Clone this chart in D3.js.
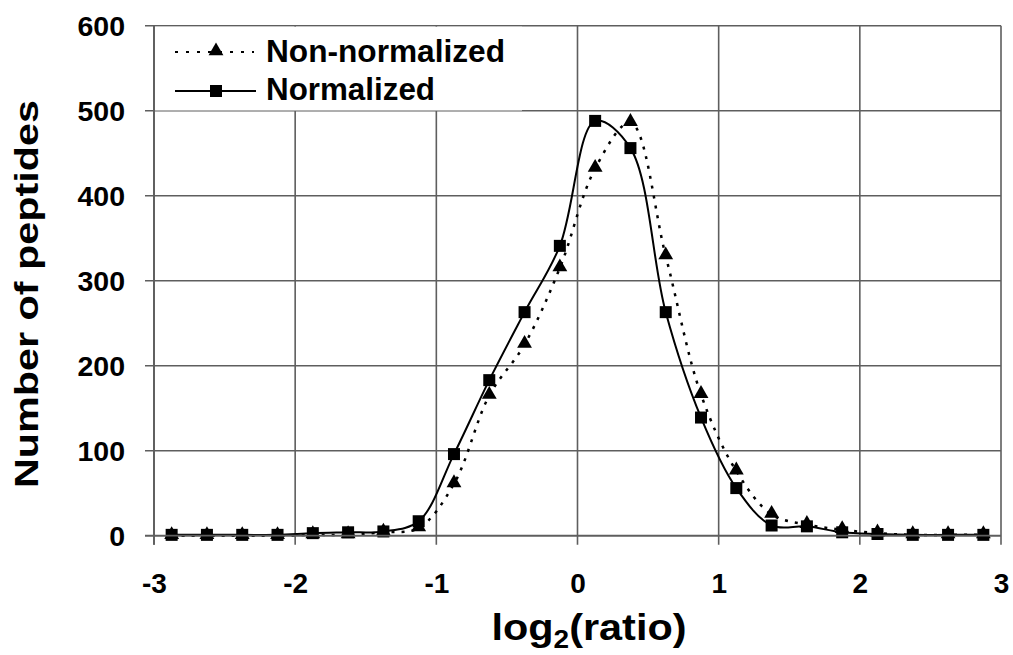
<!DOCTYPE html>
<html>
<head>
<meta charset="utf-8">
<script src="https://cdn.jsdelivr.net/npm/d3@7"></script>
<style>
  html, body { margin: 0; padding: 0; background: #fff; }
  svg { display: block; }
  text { font-family: Arial, "Liberation Sans", sans-serif; font-weight: bold; fill: #000; }
</style>
</head>
<body>
<svg id="chart" width="1013" height="655"></svg>
<script>
// ---- data ----
const xBins = [-2.875, -2.625, -2.375, -2.125, -1.875, -1.625, -1.375, -1.125,
               -0.875, -0.625, -0.375, -0.125, 0.125, 0.375, 0.625, 0.875,
               1.125, 1.375, 1.625, 1.875, 2.125, 2.375, 2.625, 2.875];
const nonNormalized = [0, 0, 0, 0, 1, 1, 4, 9, 61, 165, 225, 315, 432, 486, 329, 166, 76, 25, 13, 7, 3, 1, 1, 1];
const normalized    = [1, 1, 1, 1, 3, 4, 5, 17, 96, 183, 263, 341, 488, 456, 263, 139, 56, 12, 11, 4, 2, 1, 1, 1];
const xTicks = [-3, -2, -1, 0, 1, 2, 3];
const yTicks = [0, 100, 200, 300, 400, 500, 600];
const seriesNames = ["Non-normalized", "Normalized"];

// ---- layout ----
const svg = d3.select("#chart");
const pLeft = 154, pRight = 1001, pTop = 25.7, pBottom = 535.7;
const x = d3.scaleLinear().domain([-3, 3]).range([pLeft, pRight]);
const y = d3.scaleLinear().domain([0, 600]).range([pBottom, pTop]);
const gridColor = "#5e5e5e";

// gridlines
const grid = svg.append("g");
grid.selectAll("line.v").data(xTicks).join("line").attr("class", "v")
  .attr("x1", d => x(d)).attr("x2", d => x(d))
  .attr("y1", pTop).attr("y2", pBottom + 9)
  .attr("stroke", gridColor).attr("stroke-width", 1.6);
grid.selectAll("line.h").data(yTicks).join("line").attr("class", "h")
  .attr("x1", pLeft - 9).attr("x2", pRight)
  .attr("y1", d => y(d)).attr("y2", d => y(d))
  .attr("stroke", gridColor).attr("stroke-width", 1.6);

// axes (labels only, lines drawn above)
const xAxis = d3.axisBottom(x).tickValues(xTicks).tickSize(0).tickPadding(0)
  .tickFormat(d => String(d));
const gx = svg.append("g").attr("transform", `translate(0,${pBottom})`).call(xAxis);
gx.select(".domain").remove();
gx.selectAll("text").attr("y", 57).attr("dy", 0)
  .style("font-size", "28px").style("font-family", "Arial, 'Liberation Sans', sans-serif")
  .style("font-weight", "bold").attr("fill", "#000");

const yAxis = d3.axisLeft(y).tickValues(yTicks).tickSize(0).tickPadding(0);
const gy = svg.append("g").attr("transform", `translate(${pLeft},0)`).call(yAxis);
gy.select(".domain").remove();
gy.selectAll("text").attr("x", -29).attr("dy", "0.35em")
  .style("font-size", "28.5px").style("font-family", "Arial, 'Liberation Sans', sans-serif")
  .style("font-weight", "bold").attr("fill", "#000");

// axis titles
svg.append("text")
  .attr("transform", "translate(38,294) rotate(-90)")
  .attr("text-anchor", "middle")
  .attr("textLength", 388).attr("lengthAdjust", "spacingAndGlyphs")
  .style("font-size", "34px")
  .text("Number of peptides");

const xt = svg.append("text")
  .attr("transform", "translate(589,640) scale(1.12,1)")
  .attr("text-anchor", "middle")
  .style("font-size", "37px");
xt.append("tspan").text("log");
xt.append("tspan").attr("dy", 8).style("font-size", "25px").text("2");
xt.append("tspan").attr("dy", -8).text("(ratio)");

// legend background
svg.append("rect")
  .attr("x", pLeft + 1).attr("y", pTop + 1)
  .attr("width", 522 - pLeft - 1).attr("height", y(500) - pTop - 1.2)
  .attr("fill", "#fff");

// series
const pts = (vals) => xBins.map((d, i) => [d, vals[i]]);
const line = d3.line().x(d => x(d[0])).y(d => y(d[1])).curve(d3.curveCatmullRom.alpha(0.5));

svg.append("path").datum(pts(nonNormalized))
  .attr("d", line).attr("fill", "none").attr("stroke", "#000")
  .attr("stroke-width", 2.5).attr("stroke-dasharray", "3,7");
svg.append("path").datum(pts(normalized))
  .attr("d", line).attr("fill", "none").attr("stroke", "#000")
  .attr("stroke-width", 2);

const tri = d3.symbol().type(d3.symbolTriangle).size(95);
svg.append("g").selectAll("path").data(pts(nonNormalized)).join("path")
  .attr("transform", d => `translate(${x(d[0])},${y(d[1]) - 1})`)
  .attr("d", tri).attr("fill", "#000");

const sq = 12;
svg.append("g").selectAll("rect").data(pts(normalized)).join("rect")
  .attr("x", d => x(d[0]) - sq / 2).attr("y", d => y(d[1]) - sq / 2)
  .attr("width", sq).attr("height", sq).attr("fill", "#000");

// axis lines
svg.append("line").attr("x1", pLeft).attr("x2", pLeft).attr("y1", pTop).attr("y2", pBottom + 9)
  .attr("stroke", gridColor).attr("stroke-width", 1.8);
svg.append("line").attr("x1", pLeft - 9).attr("x2", pRight).attr("y1", pBottom).attr("y2", pBottom)
  .attr("stroke", gridColor).attr("stroke-width", 1.8);

// legend content
const lg = svg.append("g");
lg.append("line").attr("x1", 175).attr("x2", 254).attr("y1", 52).attr("y2", 52)
  .attr("stroke", "#000").attr("stroke-width", 2).attr("stroke-dasharray", "3,8");
lg.append("path").attr("transform", "translate(216,51)").attr("d", tri).attr("fill", "#000");
lg.append("line").attr("x1", 175).attr("x2", 256).attr("y1", 91).attr("y2", 91)
  .attr("stroke", "#000").attr("stroke-width", 2);
lg.append("rect").attr("x", 216 - sq / 2).attr("y", 91 - sq / 2).attr("width", sq).attr("height", sq).attr("fill", "#000");
lg.append("text").attr("x", 266).attr("y", 62)
  .attr("textLength", 239).attr("lengthAdjust", "spacingAndGlyphs")
  .style("font-size", "31px").text(seriesNames[0]);
lg.append("text").attr("x", 266).attr("y", 100)
  .attr("textLength", 169).attr("lengthAdjust", "spacingAndGlyphs")
  .style("font-size", "31px").text(seriesNames[1]);
</script>
</body>
</html>
